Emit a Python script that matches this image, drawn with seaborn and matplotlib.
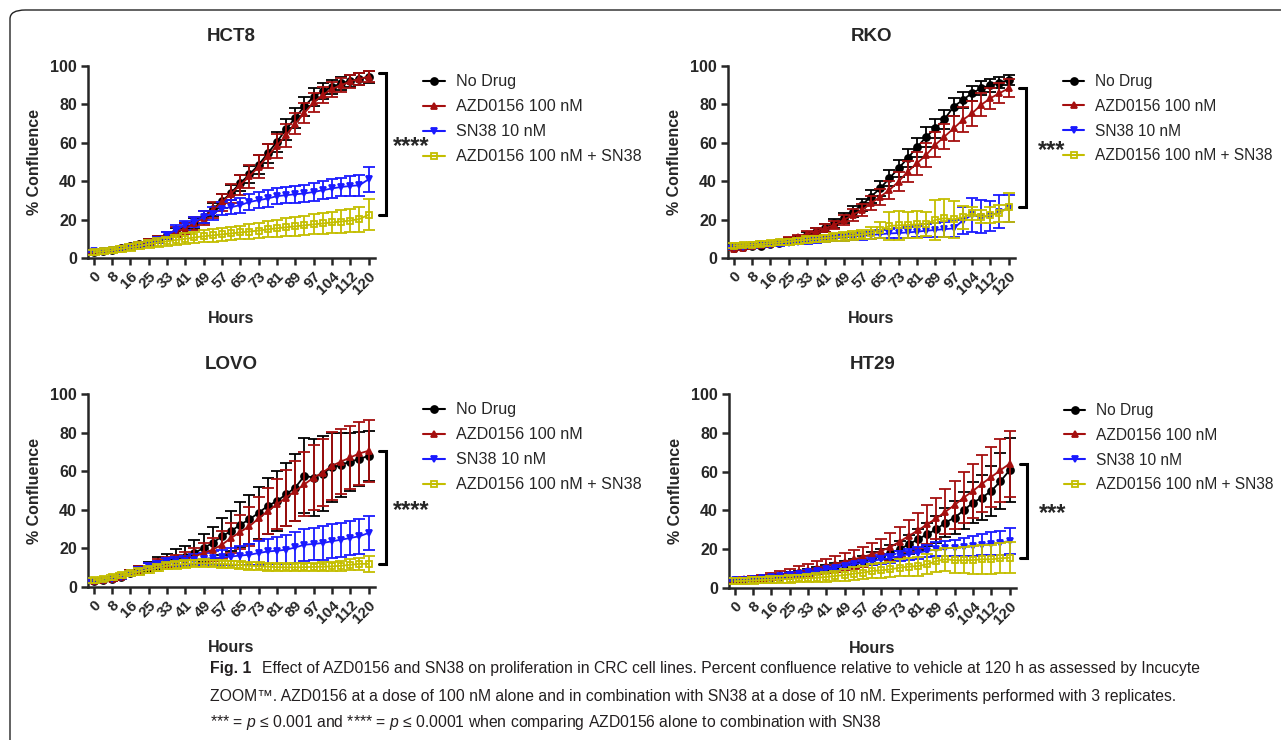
import numpy as np
import pandas as pd
import matplotlib
matplotlib.use('Agg')
import matplotlib.pyplot as plt
import seaborn as sns
from matplotlib.patches import FancyBboxPatch
from matplotlib.lines import Line2D

# ---- data ----
hour_labels = ['0', '8', '16', '25', '33', '41', '49', '57', '65', '73', '81', '89', '97', '104', '112', '120']
series_names = ['No Drug', 'AZD0156 100 nM', 'SN38 10 nM', 'AZD0156 100 nM + SN38']
cell_lines = ['HCT8', 'RKO', 'LOVO', 'HT29']
stars = ['****', '***', '****', '***']

hct8_nodrug = [3.0, 3.5, 4.2, 5.0, 6.0, 7.2, 8.5, 10.0, 11.8, 13.5, 15.5, 18.0, 21.5, 25.5, 29.5, 34.0, 39.0, 43.5, 48.5, 54.5, 60.5, 67.0, 73.0, 79.0, 84.0, 87.0, 89.0, 91.0, 92.2, 93.3, 94.3]
hct8_azd = [3.0, 3.5, 4.2, 5.0, 6.0, 7.2, 8.5, 10.0, 11.8, 13.5, 15.5, 18.0, 21.0, 25.0, 29.0, 33.5, 38.0, 42.5, 47.5, 53.0, 58.5, 64.0, 70.0, 75.5, 81.0, 85.0, 88.0, 90.0, 92.0, 93.3, 94.5]
hct8_sn38 = [3.5, 3.8, 4.2, 4.7, 5.2, 6.3, 7.7, 9.2, 11.8, 14.8, 17.0, 18.8, 21.4, 23.1, 25.7, 26.5, 27.5, 29.2, 30.1, 31.0, 32.2, 32.7, 33.2, 33.6, 34.4, 35.3, 36.2, 37.0, 37.5, 37.9, 41.0]
hct8_combo = [3.0, 3.4, 4.0, 4.8, 5.5, 6.3, 7.2, 8.0, 8.7, 9.4, 10.0, 10.7, 11.3, 11.8, 12.3, 12.8, 13.3, 13.8, 14.3, 14.9, 15.5, 16.0, 16.5, 17.0, 17.5, 18.0, 18.5, 19.0, 19.5, 20.3, 22.5]
hct8_nodrug_sd = [0.5, 0.6, 0.7, 0.8, 1.0, 1.2, 1.4, 1.6, 1.9, 2.2, 2.5, 2.8, 3.1, 3.4, 3.7, 4.0, 4.3, 4.6, 4.9, 5.1, 5.3, 5.3, 5.2, 5.0, 4.6, 4.2, 3.8, 3.5, 3.2, 3.0, 2.9]
hct8_azd_sd = [0.5, 0.6, 0.7, 0.8, 1.0, 1.2, 1.4, 1.7, 2.0, 2.4, 2.8, 3.2, 3.6, 4.0, 4.5, 5.0, 5.4, 5.8, 6.0, 6.2, 6.2, 6.0, 5.6, 5.2, 4.8, 4.3, 3.9, 3.6, 3.3, 3.1, 3.0]
hct8_sn38_sd = [0.6, 0.7, 0.8, 0.9, 1.0, 1.2, 1.4, 1.6, 1.9, 2.2, 2.5, 2.8, 3.0, 3.3, 3.5, 3.7, 3.9, 4.0, 4.1, 4.2, 4.3, 4.3, 4.4, 4.4, 4.5, 4.6, 4.7, 4.8, 5.0, 5.5, 6.5]
hct8_combo_sd = [1.2, 1.3, 1.4, 1.5, 1.6, 1.8, 2.0, 2.2, 2.4, 2.6, 2.8, 3.0, 3.2, 3.3, 3.4, 3.5, 3.6, 3.8, 4.0, 4.2, 4.4, 4.6, 4.8, 5.0, 5.2, 5.4, 5.6, 5.8, 6.0, 6.5, 8.0]

rko_nodrug = [5.0, 5.5, 6.0, 6.5, 7.2, 8.0, 9.0, 10.2, 12.0, 13.7, 15.5, 18.0, 20.7, 24.1, 27.6, 32.0, 36.3, 41.5, 46.7, 52.0, 57.6, 63.0, 67.5, 72.2, 78.8, 82.3, 85.8, 88.4, 90.0, 91.3, 92.7]
rko_azd = [4.5, 5.3, 6.0, 6.7, 7.5, 8.3, 9.5, 10.8, 12.5, 14.0, 15.5, 17.2, 19.8, 22.4, 25.0, 28.5, 31.9, 35.4, 39.8, 45.0, 49.3, 53.6, 58.9, 63.2, 67.5, 71.9, 75.3, 79.7, 83.2, 85.8, 88.4]
rko_sn38 = [5.5, 5.8, 6.2, 6.6, 7.0, 7.4, 7.8, 8.3, 8.8, 9.3, 9.8, 10.3, 10.7, 11.1, 11.5, 12.0, 12.4, 12.8, 13.0, 13.3, 13.7, 14.2, 14.6, 15.0, 15.4, 19.5, 22.4, 21.5, 21.9, 24.1, 26.0]
rko_combo = [6.5, 6.7, 7.0, 7.3, 7.7, 8.1, 8.5, 9.0, 9.5, 9.9, 10.3, 10.8, 11.2, 11.7, 12.2, 13.0, 14.5, 16.7, 17.0, 17.2, 17.5, 17.7, 19.8, 20.7, 20.1, 21.2, 23.3, 21.5, 22.4, 23.3, 26.5]
rko_nodrug_sd = [0.5, 0.6, 0.7, 0.8, 0.9, 1.0, 1.2, 1.4, 1.6, 1.8, 2.0, 2.3, 2.6, 2.9, 3.2, 3.5, 3.8, 4.1, 4.4, 4.6, 4.8, 5.0, 5.0, 4.9, 4.7, 4.4, 4.0, 3.7, 3.3, 3.0, 2.8]
rko_azd_sd = [0.5, 0.6, 0.7, 0.8, 0.9, 1.0, 1.2, 1.4, 1.6, 1.8, 2.0, 2.3, 2.6, 2.9, 3.3, 3.7, 4.1, 4.5, 5.0, 5.5, 6.0, 6.3, 6.5, 6.6, 6.6, 6.5, 6.3, 6.0, 5.6, 5.2, 4.8]
rko_sn38_sd = [0.8, 0.8, 0.9, 0.9, 1.0, 1.0, 1.1, 1.2, 1.3, 1.4, 1.5, 1.6, 1.7, 1.8, 1.9, 2.0, 2.2, 2.4, 2.6, 2.8, 3.0, 3.3, 3.6, 4.0, 4.5, 7.0, 9.0, 8.5, 8.0, 8.5, 7.0]
rko_combo_sd = [1.2, 1.2, 1.3, 1.3, 1.4, 1.4, 1.5, 1.6, 1.7, 1.8, 1.9, 2.0, 2.1, 2.3, 2.5, 3.0, 4.0, 7.5, 7.5, 7.0, 7.0, 6.5, 10.5, 10.0, 9.5, 6.0, 3.5, 3.5, 4.0, 4.5, 7.5]

lovo_nodrug = [3.0, 3.6, 4.2, 5.4, 7.1, 8.9, 10.6, 12.3, 13.6, 15.0, 15.8, 17.6, 20.2, 22.8, 26.3, 28.9, 32.3, 35.0, 38.4, 42.0, 44.5, 48.0, 51.5, 57.6, 56.7, 58.8, 62.0, 63.3, 65.0, 66.3, 68.0]
lovo_azd = [3.0, 3.6, 4.2, 5.4, 7.1, 8.9, 10.6, 12.3, 13.2, 13.6, 14.6, 15.8, 17.6, 19.3, 21.9, 25.4, 28.5, 31.5, 35.5, 39.3, 42.8, 46.3, 49.7, 53.2, 56.7, 59.3, 62.8, 65.0, 67.1, 69.2, 70.6]
lovo_sn38 = [3.0, 3.6, 4.2, 5.4, 7.1, 8.9, 10.6, 11.8, 12.9, 13.2, 13.6, 14.1, 14.6, 15.0, 15.3, 15.8, 16.3, 16.7, 17.6, 18.4, 18.8, 19.3, 20.5, 21.9, 22.3, 22.8, 23.7, 24.5, 25.4, 26.3, 28.0]
lovo_combo = [3.5, 4.2, 5.0, 6.0, 7.0, 8.0, 9.0, 10.0, 11.0, 11.5, 12.0, 12.2, 12.3, 12.2, 12.0, 11.7, 11.4, 11.0, 10.8, 10.5, 10.3, 10.2, 10.2, 10.3, 10.4, 10.5, 10.7, 11.0, 11.5, 12.0, 12.0]
lovo_nodrug_sd = [0.5, 0.7, 0.9, 1.2, 1.5, 2.0, 2.5, 3.0, 3.6, 4.5, 5.5, 6.5, 7.5, 8.5, 9.5, 10.5, 11.5, 12.5, 13.5, 14.5, 15.5, 16.5, 17.5, 19.5, 20.0, 19.5, 18.0, 16.5, 15.0, 14.0, 13.0]
lovo_azd_sd = [0.5, 0.7, 0.9, 1.2, 1.5, 1.8, 2.0, 2.3, 2.6, 3.0, 3.5, 4.2, 5.0, 6.0, 7.0, 8.0, 9.0, 10.0, 11.0, 12.0, 13.0, 14.5, 15.5, 16.5, 17.0, 17.5, 17.5, 17.0, 16.5, 16.2, 16.0]
lovo_sn38_sd = [0.5, 0.6, 0.8, 1.0, 1.2, 1.4, 1.6, 1.8, 2.0, 2.2, 2.5, 2.8, 3.1, 3.5, 4.0, 4.5, 5.0, 5.5, 6.0, 6.5, 7.0, 7.5, 8.0, 8.3, 8.5, 8.6, 8.7, 8.8, 8.9, 9.0, 9.0]
lovo_combo_sd = [1.2, 1.2, 1.3, 1.4, 1.5, 1.6, 1.7, 1.8, 1.9, 2.0, 2.0, 2.0, 2.0, 2.0, 2.0, 2.0, 2.0, 2.0, 2.0, 2.0, 2.0, 2.0, 2.0, 2.0, 2.1, 2.2, 2.3, 2.5, 2.8, 3.2, 4.0]

ht29_nodrug = [4.0, 4.3, 4.6, 5.0, 5.5, 6.1, 6.8, 7.5, 8.3, 9.2, 10.0, 10.8, 11.9, 12.7, 13.9, 15.3, 16.5, 18.2, 19.9, 22.5, 25.1, 27.7, 30.2, 33.7, 36.3, 40.0, 44.0, 46.6, 50.0, 55.0, 60.7]
ht29_azd = [4.0, 4.5, 4.8, 5.3, 6.0, 6.7, 7.4, 8.4, 9.3, 10.5, 11.3, 12.5, 13.6, 14.8, 16.0, 17.4, 19.1, 21.1, 23.9, 26.8, 29.7, 32.8, 35.9, 39.3, 42.8, 46.6, 50.0, 53.8, 57.2, 60.7, 64.1]
ht29_sn38 = [4.0, 4.3, 4.7, 5.1, 5.6, 6.1, 6.7, 7.3, 8.0, 8.8, 9.6, 10.5, 11.3, 12.2, 13.1, 13.9, 14.8, 15.3, 16.5, 17.4, 18.2, 19.1, 19.9, 20.4, 20.8, 21.1, 21.6, 22.2, 22.9, 23.4, 24.2]
ht29_combo = [3.5, 3.7, 3.9, 4.1, 4.3, 4.5, 4.7, 4.9, 5.1, 5.3, 5.7, 6.2, 6.7, 7.4, 7.9, 8.8, 9.1, 9.6, 10.5, 11.0, 11.3, 12.2, 13.9, 14.8, 14.3, 14.3, 14.4, 14.8, 14.8, 15.3, 15.6]
ht29_nodrug_sd = [0.8, 0.8, 0.9, 1.0, 1.1, 1.2, 1.3, 1.4, 1.5, 1.6, 1.8, 2.0, 2.2, 2.4, 2.7, 3.0, 3.4, 3.8, 4.3, 4.8, 5.4, 6.0, 6.8, 7.6, 8.5, 9.5, 10.5, 11.8, 13.0, 14.5, 16.5]
ht29_azd_sd = [0.8, 1.0, 1.3, 1.6, 1.9, 2.2, 2.5, 2.8, 3.1, 3.4, 3.7, 4.0, 4.4, 4.8, 5.3, 5.8, 6.4, 7.0, 7.7, 8.4, 9.1, 9.9, 10.7, 11.5, 12.3, 13.1, 13.9, 14.7, 15.5, 16.2, 17.0]
ht29_sn38_sd = [0.6, 0.6, 0.7, 0.7, 0.8, 0.8, 0.9, 1.0, 1.1, 1.2, 1.3, 1.4, 1.5, 1.6, 1.8, 2.0, 2.2, 2.4, 2.6, 2.8, 3.0, 3.3, 3.6, 3.9, 4.2, 4.6, 5.0, 5.4, 5.8, 6.2, 6.6]
ht29_combo_sd = [1.5, 1.5, 1.6, 1.6, 1.7, 1.8, 1.9, 2.0, 2.2, 2.4, 2.6, 2.8, 3.0, 3.2, 3.4, 3.6, 3.8, 4.0, 4.3, 4.6, 4.9, 5.2, 5.6, 6.0, 6.4, 6.8, 7.2, 7.4, 7.6, 7.8, 8.0]

means = {
    'HCT8': [hct8_nodrug, hct8_azd, hct8_sn38, hct8_combo],
    'RKO': [rko_nodrug, rko_azd, rko_sn38, rko_combo],
    'LOVO': [lovo_nodrug, lovo_azd, lovo_sn38, lovo_combo],
    'HT29': [ht29_nodrug, ht29_azd, ht29_sn38, ht29_combo],
}
sds = {
    'HCT8': [hct8_nodrug_sd, hct8_azd_sd, hct8_sn38_sd, hct8_combo_sd],
    'RKO': [rko_nodrug_sd, rko_azd_sd, rko_sn38_sd, rko_combo_sd],
    'LOVO': [lovo_nodrug_sd, lovo_azd_sd, lovo_sn38_sd, lovo_combo_sd],
    'HT29': [ht29_nodrug_sd, ht29_azd_sd, ht29_sn38_sd, ht29_combo_sd],
}

# ---- style ----
W, H = 1281, 740
sns.set_style('ticks')
plt.rcParams['font.family'] = ['Liberation Sans', 'DejaVu Sans']
plt.rcParams['mathtext.fontset'] = 'custom'
plt.rcParams['mathtext.it'] = 'Liberation Sans:italic'
plt.rcParams['mathtext.rm'] = 'Liberation Sans'

colors = ['#000000', '#a50f0f', '#1a1aff', '#c4be00']
markers = ['o', '^', 'v', 's']
draw_order = [2, 0, 1, 3]

fig = plt.figure(figsize=(W / 100, H / 100), dpi=100)

# rounded outer frame
frame = FancyBboxPatch((10 / W, 1 - 760 / H), 1300 / W, 750 / H,
                       boxstyle='round,pad=0,rounding_size=0.012',
                       transform=fig.transFigure, fill=False, lw=1.0, ec='#222222', clip_on=False)
fig.patches.append(frame)

# axes boxes in pixels: left, top, right, bottom
boxes = {'HCT8': (88, 66, 375, 258), 'RKO': (728, 66, 1015, 258),
         'LOVO': (88, 394, 375, 587), 'HT29': (729, 394, 1016, 588)}
legend_tops = {'HCT8': 68, 'RKO': 68, 'LOVO': 396, 'HT29': 397}
legend_size = {'HCT8': 11.6, 'RKO': 11.2, 'LOVO': 11.6, 'HT29': 11.2}

idx = np.arange(31)

for k, name in enumerate(cell_lines):
    l, t, r, b = boxes[name]
    ax = fig.add_axes([l / W, 1 - b / H, (r - l) / W, (b - t) / H])
    handles = [None] * 4
    for s in draw_order:
        y = np.array(means[name][s])
        e = np.array(sds[name][s])
        ax.errorbar(idx, y, yerr=e, fmt='none', ecolor=colors[s], elinewidth=1.3,
                    capsize=4, capthick=1.3, zorder=2 + s)
        df = pd.DataFrame({'t': idx, 'v': y})
        mfc = 'none' if s == 3 else colors[s]
        sns.lineplot(data=df, x='t', y='v', ax=ax, color=colors[s], lw=1.3,
                     marker=markers[s], markersize=5, mfc=mfc, mec=colors[s],
                     mew=1.3, zorder=3 + s)
        handles[s] = Line2D([], [], color=colors[s], lw=1.5, marker=markers[s],
                            markersize=5, mfc=mfc, mec=colors[s], mew=1.3)

    ax.set_xlim(-0.6, 30.7)
    ax.set_ylim(0, 100)
    ax.set_yticks([0, 20, 40, 60, 80, 100])
    ax.set_xticks(idx[::2])
    ax.set_xticklabels(hour_labels, rotation=45, ha='right', rotation_mode='anchor')
    for lab in ax.get_xticklabels():
        lab.set_fontweight('bold')
        lab.set_fontsize(11)
    for lab in ax.get_yticklabels():
        lab.set_fontweight('bold')
        lab.set_fontsize(11.5)
    ax.tick_params(axis='both', direction='out', length=5, width=1.8, pad=3)
    for sp in ['left', 'bottom']:
        ax.spines[sp].set_linewidth(1.8)
    sns.despine(ax=ax)
    ax.set_xlabel('Hours', fontsize=11.5, fontweight='bold', labelpad=10)
    ax.set_ylabel('% Confluence', fontsize=11.5, fontweight='bold', labelpad=6)
    ax.set_title(name, fontsize=13.5, fontweight='bold', pad=18)

    # significance bracket
    top = means[name][1][-1]
    bot = means[name][3][-1]
    if name == 'HCT8':
        top = 96.5
    bx0, bx1 = 31.1, 31.9
    ax.plot([bx0, bx1, bx1, bx0], [top, top, bot, bot], color='black', lw=2.2,
            clip_on=False, solid_joinstyle='miter')
    ax.text(34.7, (top + bot) / 2 - 1.5, stars[k], fontsize=17, fontweight='bold',
            ha='center', va='center', clip_on=False)

    ax.legend(handles, series_names, loc='upper left',
              bbox_to_anchor=(1.0 + 42 / (r - l), 1.0 + (t - legend_tops[name]) / (b - t)),
              frameon=False, fontsize=legend_size[name], handlelength=1.35, handletextpad=0.7,
              labelspacing=0.62, borderaxespad=0)

# ---- caption ----
cap_kw = dict(fontsize=11.3, va='center', ha='left', color='#231f20')
fig.text(210 / W, 1 - 668 / H, 'Fig. 1', fontweight='bold', **cap_kw)
fig.text(262 / W, 1 - 668 / H,
         'Effect of AZD0156 and SN38 on proliferation in CRC cell lines. Percent confluence relative to vehicle at 120 h as assessed by Incucyte',
         **cap_kw)
fig.text(210 / W, 1 - 696 / H,
         'ZOOM\u2122. AZD0156 at a dose of 100 nM alone and in combination with SN38 at a dose of 10 nM. Experiments performed with 3 replicates.',
         **cap_kw)
fig.text(210 / W, 1 - 723 / H,
         '*** = $p$ \u2264 0.001 and **** = $p$ \u2264 0.0001 when comparing AZD0156 alone to combination with SN38',
         **cap_kw)

fig.savefig('out.png', dpi=100)
